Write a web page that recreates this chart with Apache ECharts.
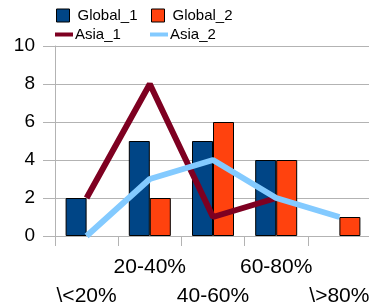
<!DOCTYPE html>
<html><head><meta charset="utf-8">
<script src="https://cdn.jsdelivr.net/npm/echarts@6/dist/echarts.min.js"></script>
<style>html,body{margin:0;padding:0;background:#fff}#c{width:369px;height:304px}</style>
</head><body><div id="c"></div>
<script>
const categories = ['\\<20%', '20-40%', '40-60%', '60-80%', '\\>80%'];
const global1 = [2, 5, 5, 4, null];
const global2 = [null, 2, 6, 4, 1];
const asia1 = [2, 8, 1, 2, null];
const asia2 = [0, 3, 4, 2, 1];
const yTicks = [0, 2, 4, 6, 8, 10];

const FONT = 'Liberation Sans';
const chart = echarts.init(document.getElementById('c'));
const barLegendText = {fontFamily: FONT, fontSize: 15, color: '#000', padding: [0, 0, 0, 3]};
const lineLegendText = {fontFamily: FONT, fontSize: 15, color: '#000', padding: [0, 0, 0, -3]};
chart.setOption({
  animation: false,
  legend: [
    {data: ['Global_1'], left: 56, top: 8, itemWidth: 13, itemHeight: 13, icon: 'rect', textStyle: barLegendText, padding: 0, itemStyle: {borderColor: '#000', borderWidth: 1}},
    {data: ['Global_2'], left: 151, top: 8, itemWidth: 13, itemHeight: 13, icon: 'rect', textStyle: barLegendText, padding: 0, itemStyle: {borderColor: '#000', borderWidth: 1}},
    {data: ['Asia_1'], left: 55, top: 27, itemWidth: 18, itemHeight: 4, icon: 'rect', textStyle: lineLegendText, padding: 0},
    {data: ['Asia_2'], left: 150, top: 27, itemWidth: 18, itemHeight: 4, icon: 'rect', textStyle: lineLegendText, padding: 0}
  ],
  grid: {left: 55, top: 46, width: 316, height: 190, containLabel: false, outerBoundsMode: 'none'},
  xAxis: {
    type: 'category', data: categories,
    axisLine: {lineStyle: {color: '#b3b3b3', width: 1}},
    axisTick: {show: true, length: 10, alignWithLabel: false, lineStyle: {color: '#b3b3b3'}},
    axisLabel: {interval: 0, margin: 17, fontFamily: FONT, fontSize: 21, color: '#000', lineHeight: 29,
      formatter: (v, i) => (i % 2 === 0 ? '\n' + v : v)},
    splitLine: {show: false}
  },
  yAxis: {
    type: 'value', min: yTicks[0], max: yTicks[yTicks.length - 1], interval: 2,
    axisLine: {show: true, lineStyle: {color: '#b3b3b3'}},
    axisTick: {show: true, length: 12, lineStyle: {color: '#b3b3b3'}},
    axisLabel: {margin: 20, fontFamily: FONT, fontSize: 19, color: '#000'},
    splitLine: {show: true, lineStyle: {color: '#b3b3b3', width: 1}}
  },
  series: [
    {name: 'Global_1', type: 'bar', data: global1, barWidth: 21, barGap: '0%',
      itemStyle: {color: '#004586', borderColor: '#000', borderWidth: 1}},
    {name: 'Global_2', type: 'bar', data: global2, barWidth: 21, barGap: '0%',
      itemStyle: {color: '#ff420e', borderColor: '#000', borderWidth: 1}},
    {name: 'Asia_1', type: 'line', data: asia1, showSymbol: false, symbol: 'none', connectNulls: false,
      lineStyle: {color: '#7e0021', width: 6}, itemStyle: {color: '#7e0021'}},
    {name: 'Asia_2', type: 'line', data: asia2, showSymbol: false, symbol: 'none',
      lineStyle: {color: '#83caff', width: 6}, itemStyle: {color: '#83caff'}}
  ]
});
</script></body></html>
